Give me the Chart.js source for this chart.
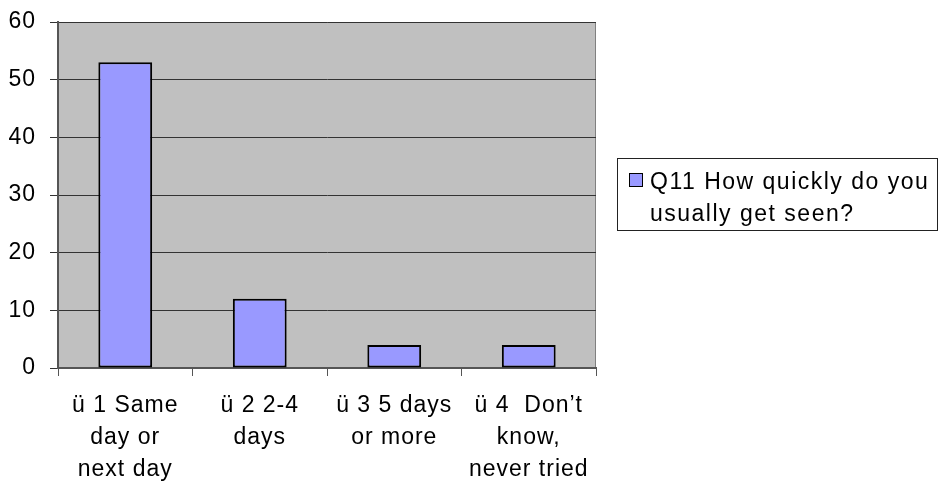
<!DOCTYPE html>
<html>
<head>
<meta charset="utf-8">
<script src="https://cdn.jsdelivr.net/npm/chart.js@4.4.0/dist/chart.umd.min.js"></script>
<style>
    body { margin: 0; background: #fff; }
    #wrap { position: relative; width: 939px; height: 489px; }
    #legend {
        position: absolute; left: 617px; top: 158px; width: 319px; height: 71px;
        border: 1px solid #222; background: #fff;
        font-family: 'Liberation Sans', Arial, sans-serif; font-size: 23px; line-height: 32px;
        letter-spacing: 1.5px; color: #000;
    }
    #legend .swatch {
        position: absolute; left: 11px; top: 14px; width: 12px; height: 12px;
        border: 1px solid #000;
    }
    #legend .text { position: absolute; left: 32px; top: 6px; width: 290px; }
</style>
</head>
<body>
<div id="wrap">
    <canvas id="chart" width="939" height="489"></canvas>
    <div id="legend"></div>
</div>
<script>
const categories = [
    ['ü 1 Same', 'day or', 'next day'],
    ['ü 2 2-4', 'days'],
    ['ü 3 5 days', 'or more'],
    ['ü 4  Don\u2019t', 'know,', 'never tried']
];
const seriesName = 'Q11 How quickly do you usually get seen?';
const seriesValues = [53, 12, 4, 4];
const yTicks = [0, 10, 20, 30, 40, 50, 60];

const barColor = '#9999FF';
const font = { family: "'Liberation Sans', Arial, sans-serif", size: 23 };

// gray plot area with a thin border, slightly wider lettering like the original
const plotBg = {
    id: 'plotBg',
    beforeDraw(c) {
        const a = c.chartArea, ctx = c.ctx;
        ctx.letterSpacing = '1px';
        ctx.save();
        ctx.fillStyle = '#C0C0C0';
        ctx.fillRect(a.left, a.top, a.right - a.left, a.bottom - a.top);
        ctx.strokeStyle = '#808080';
        ctx.lineWidth = 1;
        ctx.strokeRect(a.left + 0.5, a.top + 0.5, a.right - a.left - 1, a.bottom - a.top);
        ctx.restore();
    }
};

const chart = document.querySelector('#chart').getContext('2d');

new Chart(chart, {
    type: 'bar',
    data: {
        labels: categories,
        datasets: [{
            label: seriesName,
            data: seriesValues,
            backgroundColor: barColor,
            borderColor: '#000',
            borderWidth: 2,
            borderSkipped: false,
            categoryPercentage: 1,
            barPercentage: 0.4
        }]
    },
    options: {
        responsive: false,
        animation: false,
        layout: { padding: { top: 22, right: 343, left: 0, bottom: 0 } },
        plugins: { legend: { display: false }, tooltip: { enabled: false } },
        scales: {
            x: {
                afterFit: (s) => { s.height = 121; },
                grid: { offset: true, drawOnChartArea: false, color: '#555', tickLength: 8 },
                border: { color: '#555', width: 2 },
                ticks: { color: '#000', font: { ...font, lineHeight: 1.41 }, padding: 13, maxRotation: 0, autoSkip: false }
            },
            y: {
                min: 0,
                max: 60,
                afterFit: (s) => { s.width = 58; s.paddingTop = 0; s.paddingBottom = 0; },
                afterBuildTicks: (s) => { s.ticks = yTicks.map(v => ({ value: v })); },
                grid: { color: '#333', tickLength: 8 },
                border: { color: '#555', width: 2 },
                ticks: { color: '#000', font: font, padding: 14 }
            }
        }
    },
    plugins: [plotBg]
});

// legend built from the series
document.querySelector('#legend').innerHTML =
    '<div class="swatch" style="background:' + barColor + '"></div>' +
    '<div class="text">' + seriesName + '</div>';
</script>
</body>
</html>
